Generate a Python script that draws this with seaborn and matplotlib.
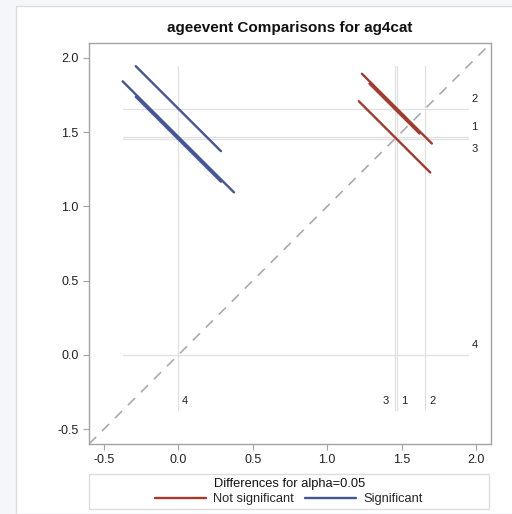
import numpy as np
import pandas as pd
import matplotlib
matplotlib.use("Agg")
import matplotlib.pyplot as plt
from matplotlib.patches import Rectangle
from matplotlib.lines import Line2D
import seaborn as sns

# LS means per level of ag4cat
levels = ['1', '2', '3', '4']
means = [1.468, 1.658, 1.452, 0.0]

# pairwise comparisons: x level, y level, half-width of CI of the difference
pair_x = ['1', '3', '3', '4', '4', '4']
pair_y = ['2', '2', '1', '2', '1', '3']
diff_ci_half = [0.47, 0.336, 0.48, 0.572, 0.748, 0.572]

RED = '#A23A2E'
BLUE = '#445694'
REF = '#E0E0E0'


def main():
    sns.set_theme(style="white")
    plt.rcParams['font.family'] = ['Liberation Sans', 'DejaVu Sans']

    mu = dict(zip(levels, means))

    # build segments perpendicular to the diagonal
    rows = []
    for k, (a, b, w) in enumerate(zip(pair_x, pair_y, diff_ci_half)):
        mx, my = mu[a], mu[b]
        h = w / 2
        sig = 'Significant' if abs(my - mx) > w else 'Not significant'
        rows.append({'seg': k, 'x': mx - h, 'y': my + h, 'sig': sig})
        rows.append({'seg': k, 'x': mx + h, 'y': my - h, 'sig': sig})
    seg_df = pd.DataFrame(rows)
    lo = min(seg_df['x'].min(), seg_df['y'].min())
    hi = max(seg_df['x'].max(), seg_df['y'].max())

    fig = plt.figure(figsize=(5.12, 5.14), dpi=100)
    fig.patch.set_facecolor('#F4F6FA')
    fig.add_artist(Rectangle((16 / 512, 0), 1, 1 - 6 / 514, transform=fig.transFigure,
                             facecolor='white', edgecolor='#DADDE2', lw=1, zorder=0))

    ax = fig.add_axes([89 / 512, 70 / 514, 402 / 512, 401 / 514])
    ax.set_facecolor('white')

    # reference lines at each mean
    for lev, m in zip(levels, means):
        ax.plot([lo, hi], [m, m], color=REF, lw=0.9, zorder=1)
        ax.plot([m, m], [lo, hi], color=REF, lw=0.9, zorder=1)

    # diagonal
    ax.axline((0, 0), slope=1, color='#AAAAAA', lw=1.2, dashes=(6, 5), zorder=2)

    sns.lineplot(data=seg_df, x='x', y='y', units='seg', hue='sig', estimator=None,
                 sort=False, palette={'Not significant': RED, 'Significant': BLUE},
                 lw=1.7, legend=False, ax=ax, zorder=3)

    # level labels on the right and at the bottom
    for lev, m in zip(levels, means):
        crowded = any((o > m) and (o - m < 0.05) for o in means)
        dy = -7 if crowded else 7
        dx = -6 if crowded else 5
        ax.annotate(lev, (1.99, m), xytext=(0, dy), textcoords='offset points',
                    ha='center', va='center', fontsize=8, color='#222222')
        ax.annotate(lev, (m, -0.31), xytext=(dx, 0), textcoords='offset points',
                    ha='center', va='center', fontsize=8, color='#222222')

    ax.set_xlim(-0.6, 2.1)
    ax.set_ylim(-0.6, 2.1)
    ticks = [-0.5, 0.0, 0.5, 1.0, 1.5, 2.0]
    ax.set_xticks(ticks)
    ax.set_yticks(ticks)
    ax.set_xticklabels([f'{t:.1f}' for t in ticks])
    ax.set_yticklabels([f'{t:.1f}' for t in ticks])
    ax.tick_params(axis='both', direction='out', length=4.5, width=0.8, color='#A0A4A8',
                   labelsize=9, labelcolor='#222222', pad=3, bottom=True, left=True)
    ax.set_xlabel('')
    ax.set_ylabel('')
    for sp in ax.spines.values():
        sp.set_color('#A0A3A8')
        sp.set_linewidth(1.0)

    fig.text(290 / 512, 1 - 28 / 514, 'ageevent Comparisons for ag4cat',
             ha='center', va='center', fontsize=11, fontweight='bold', color='#111111')

    # legend box
    fig.add_artist(Rectangle((89 / 512, 1 - 509 / 514), 400 / 512, 35 / 514,
                             transform=fig.transFigure, facecolor='white',
                             edgecolor='#DDDDDD', lw=1))
    fig.text(290 / 512, 1 - 483.5 / 514, 'Differences for alpha=0.05',
             ha='center', va='center', fontsize=9.3, color='#111111')
    handles = [Line2D([], [], color=RED, lw=1.7), Line2D([], [], color=BLUE, lw=1.7)]
    fig.legend(handles, ['Not significant', 'Significant'], loc='center',
               bbox_to_anchor=(289 / 512, 1 - 499 / 514), ncol=2, frameon=False,
               fontsize=9.3, handlelength=3.9, handletextpad=0.6, columnspacing=0.85,
               borderpad=0, borderaxespad=0)

    fig.savefig('out.png', dpi=100, facecolor=fig.get_facecolor())


if __name__ == "__main__":
    main()
